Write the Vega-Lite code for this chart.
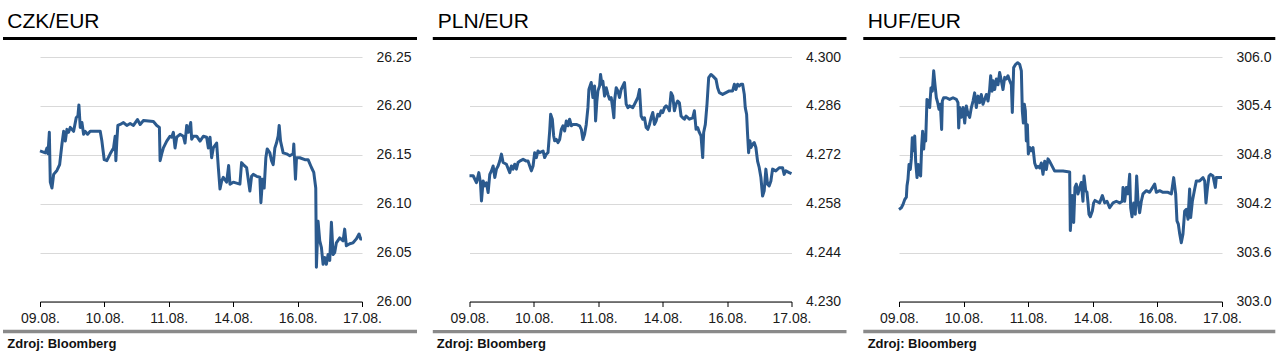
{
"$schema": "https://vega.github.io/schema/vega-lite/v6.json",
"padding": {"left": 1, "top": 10, "right": 5, "bottom": 5},
"config": {"font": "Liberation Sans", "view": {"stroke": null},
  "title": {"anchor": "start", "frame": "group", "baseline": "alphabetic", "fontSize": 21, "fontWeight": "normal", "color": "#000000", "offset": 5.2},
  "axis": {"labelFontSize": 14, "labelColor": "#1a1a1a", "title": null, "labelOverlap": false, "labelBound": false}
},
"datasets": {
"czk": [
{"t":0,"rate":26.154},{"t":0.083,"rate":26.152},{"t":0.108,"rate":26.157},{"t":0.124,"rate":26.151},{"t":0.145,"rate":26.173},{"t":0.160,"rate":26.122},{"t":0.186,"rate":26.116},{"t":0.212,"rate":26.130},{"t":0.263,"rate":26.134},{"t":0.305,"rate":26.140},{"t":0.341,"rate":26.161},{"t":0.367,"rate":26.174},{"t":0.393,"rate":26.164},{"t":0.418,"rate":26.176},{"t":0.444,"rate":26.173},{"t":0.470,"rate":26.178},{"t":0.522,"rate":26.174},{"t":0.563,"rate":26.188},{"t":0.589,"rate":26.190},{"t":0.604,"rate":26.201},{"t":0.625,"rate":26.178},{"t":0.651,"rate":26.183},{"t":0.677,"rate":26.171},{"t":0.702,"rate":26.174},{"t":0.739,"rate":26.171},{"t":0.780,"rate":26.174},{"t":0.935,"rate":26.174},{"t":0.961,"rate":26.164},{"t":0.997,"rate":26.145},{"t":1.038,"rate":26.144},{"t":1.090,"rate":26.151},{"t":1.142,"rate":26.157},{"t":1.167,"rate":26.169},{"t":1.178,"rate":26.144},{"t":1.193,"rate":26.164},{"t":1.209,"rate":26.180},{"t":1.245,"rate":26.181},{"t":1.296,"rate":26.183},{"t":1.348,"rate":26.180},{"t":1.400,"rate":26.182},{"t":1.451,"rate":26.180},{"t":1.513,"rate":26.186},{"t":1.555,"rate":26.181},{"t":1.606,"rate":26.185},{"t":1.761,"rate":26.184},{"t":1.813,"rate":26.180},{"t":1.854,"rate":26.178},{"t":1.865,"rate":26.144},{"t":1.890,"rate":26.151},{"t":1.916,"rate":26.157},{"t":1.968,"rate":26.164},{"t":2.020,"rate":26.169},{"t":2.045,"rate":26.168},{"t":2.071,"rate":26.173},{"t":2.097,"rate":26.157},{"t":2.123,"rate":26.168},{"t":2.175,"rate":26.171},{"t":2.226,"rate":26.169},{"t":2.252,"rate":26.162},{"t":2.278,"rate":26.180},{"t":2.304,"rate":26.173},{"t":2.340,"rate":26.183},{"t":2.355,"rate":26.166},{"t":2.381,"rate":26.169},{"t":2.433,"rate":26.169},{"t":2.485,"rate":26.164},{"t":2.536,"rate":26.169},{"t":2.588,"rate":26.168},{"t":2.614,"rate":26.157},{"t":2.640,"rate":26.168},{"t":2.665,"rate":26.147},{"t":2.691,"rate":26.157},{"t":2.743,"rate":26.162},{"t":2.769,"rate":26.137},{"t":2.795,"rate":26.115},{"t":2.820,"rate":26.123},{"t":2.846,"rate":26.127},{"t":2.898,"rate":26.122},{"t":2.929,"rate":26.139},{"t":2.950,"rate":26.120},{"t":3.001,"rate":26.122},{"t":3.104,"rate":26.120},{"t":3.130,"rate":26.142},{"t":3.156,"rate":26.140},{"t":3.208,"rate":26.137},{"t":3.259,"rate":26.113},{"t":3.285,"rate":26.128},{"t":3.311,"rate":26.130},{"t":3.363,"rate":26.128},{"t":3.414,"rate":26.127},{"t":3.430,"rate":26.101},{"t":3.456,"rate":26.125},{"t":3.481,"rate":26.116},{"t":3.507,"rate":26.147},{"t":3.528,"rate":26.156},{"t":3.569,"rate":26.152},{"t":3.595,"rate":26.144},{"t":3.621,"rate":26.140},{"t":3.647,"rate":26.157},{"t":3.672,"rate":26.162},{"t":3.698,"rate":26.169},{"t":3.714,"rate":26.180},{"t":3.735,"rate":26.164},{"t":3.776,"rate":26.152},{"t":3.828,"rate":26.151},{"t":3.879,"rate":26.149},{"t":3.931,"rate":26.151},{"t":3.941,"rate":26.161},{"t":3.967,"rate":26.125},{"t":3.983,"rate":26.147},{"t":4.034,"rate":26.147},{"t":4.112,"rate":26.145},{"t":4.163,"rate":26.145},{"t":4.215,"rate":26.137},{"t":4.251,"rate":26.132},{"t":4.282,"rate":26.116},{"t":4.292,"rate":26.035},{"t":4.318,"rate":26.082},{"t":4.344,"rate":26.062},{"t":4.370,"rate":26.055},{"t":4.396,"rate":26.038},{"t":4.421,"rate":26.045},{"t":4.447,"rate":26.038},{"t":4.473,"rate":26.048},{"t":4.499,"rate":26.042},{"t":4.525,"rate":26.081},{"t":4.551,"rate":26.048},{"t":4.576,"rate":26.050},{"t":4.602,"rate":26.060},{"t":4.654,"rate":26.065},{"t":4.706,"rate":26.062},{"t":4.731,"rate":26.074},{"t":4.757,"rate":26.057},{"t":4.809,"rate":26.059},{"t":4.861,"rate":26.060},{"t":4.912,"rate":26.064},{"t":4.954,"rate":26.069},{"t":4.979,"rate":26.064},{"t":5.0,"rate":26.064}
],
"pln": [
{"t":0,"rate":4.2660},{"t":0.057,"rate":4.2660},{"t":0.083,"rate":4.2650},{"t":0.108,"rate":4.2640},{"t":0.145,"rate":4.2669},{"t":0.170,"rate":4.2640},{"t":0.186,"rate":4.2588},{"t":0.212,"rate":4.2645},{"t":0.238,"rate":4.2631},{"t":0.263,"rate":4.2640},{"t":0.289,"rate":4.2612},{"t":0.315,"rate":4.2664},{"t":0.341,"rate":4.2674},{"t":0.367,"rate":4.2688},{"t":0.393,"rate":4.2655},{"t":0.418,"rate":4.2679},{"t":0.444,"rate":4.2688},{"t":0.470,"rate":4.2702},{"t":0.496,"rate":4.2722},{"t":0.522,"rate":4.2698},{"t":0.573,"rate":4.2693},{"t":0.625,"rate":4.2669},{"t":0.651,"rate":4.2688},{"t":0.677,"rate":4.2679},{"t":0.702,"rate":4.2693},{"t":0.728,"rate":4.2679},{"t":0.754,"rate":4.2698},{"t":0.780,"rate":4.2702},{"t":0.832,"rate":4.2707},{"t":0.883,"rate":4.2702},{"t":0.909,"rate":4.2702},{"t":0.935,"rate":4.2688},{"t":0.961,"rate":4.2674},{"t":0.987,"rate":4.2688},{"t":1.012,"rate":4.2726},{"t":1.038,"rate":4.2712},{"t":1.064,"rate":4.2731},{"t":1.090,"rate":4.2726},{"t":1.142,"rate":4.2731},{"t":1.167,"rate":4.2712},{"t":1.193,"rate":4.2722},{"t":1.219,"rate":4.2726},{"t":1.245,"rate":4.2788},{"t":1.260,"rate":4.2836},{"t":1.286,"rate":4.2822},{"t":1.307,"rate":4.2774},{"t":1.322,"rate":4.2760},{"t":1.348,"rate":4.2764},{"t":1.374,"rate":4.2755},{"t":1.400,"rate":4.2764},{"t":1.426,"rate":4.2793},{"t":1.451,"rate":4.2803},{"t":1.477,"rate":4.2788},{"t":1.503,"rate":4.2817},{"t":1.529,"rate":4.2803},{"t":1.555,"rate":4.2822},{"t":1.581,"rate":4.2803},{"t":1.606,"rate":4.2807},{"t":1.658,"rate":4.2807},{"t":1.710,"rate":4.2803},{"t":1.736,"rate":4.2793},{"t":1.761,"rate":4.2764},{"t":1.787,"rate":4.2779},{"t":1.813,"rate":4.2807},{"t":1.839,"rate":4.2855},{"t":1.854,"rate":4.2907},{"t":1.890,"rate":4.2927},{"t":1.916,"rate":4.2884},{"t":1.942,"rate":4.2917},{"t":1.958,"rate":4.2817},{"t":1.978,"rate":4.2874},{"t":1.994,"rate":4.2903},{"t":2.020,"rate":4.2917},{"t":2.035,"rate":4.2950},{"t":2.056,"rate":4.2922},{"t":2.071,"rate":4.2931},{"t":2.097,"rate":4.2888},{"t":2.123,"rate":4.2912},{"t":2.149,"rate":4.2893},{"t":2.175,"rate":4.2879},{"t":2.200,"rate":4.2884},{"t":2.226,"rate":4.2850},{"t":2.242,"rate":4.2826},{"t":2.252,"rate":4.2874},{"t":2.278,"rate":4.2912},{"t":2.304,"rate":4.2903},{"t":2.330,"rate":4.2884},{"t":2.355,"rate":4.2907},{"t":2.381,"rate":4.2917},{"t":2.407,"rate":4.2927},{"t":2.433,"rate":4.2865},{"t":2.459,"rate":4.2855},{"t":2.485,"rate":4.2860},{"t":2.536,"rate":4.2855},{"t":2.588,"rate":4.2874},{"t":2.614,"rate":4.2884},{"t":2.640,"rate":4.2907},{"t":2.665,"rate":4.2831},{"t":2.691,"rate":4.2822},{"t":2.717,"rate":4.2826},{"t":2.743,"rate":4.2798},{"t":2.769,"rate":4.2793},{"t":2.795,"rate":4.2807},{"t":2.820,"rate":4.2826},{"t":2.846,"rate":4.2841},{"t":2.872,"rate":4.2807},{"t":2.898,"rate":4.2817},{"t":2.924,"rate":4.2836},{"t":2.950,"rate":4.2831},{"t":2.975,"rate":4.2846},{"t":3.001,"rate":4.2841},{"t":3.027,"rate":4.2855},{"t":3.053,"rate":4.2860},{"t":3.079,"rate":4.2855},{"t":3.104,"rate":4.2846},{"t":3.130,"rate":4.2898},{"t":3.156,"rate":4.2888},{"t":3.182,"rate":4.2846},{"t":3.208,"rate":4.2865},{"t":3.233,"rate":4.2874},{"t":3.259,"rate":4.2869},{"t":3.285,"rate":4.2831},{"t":3.311,"rate":4.2826},{"t":3.337,"rate":4.2822},{"t":3.363,"rate":4.2831},{"t":3.414,"rate":4.2822},{"t":3.466,"rate":4.2826},{"t":3.492,"rate":4.2846},{"t":3.518,"rate":4.2793},{"t":3.543,"rate":4.2798},{"t":3.569,"rate":4.2784},{"t":3.595,"rate":4.2774},{"t":3.621,"rate":4.2712},{"t":3.636,"rate":4.2784},{"t":3.662,"rate":4.2807},{"t":3.688,"rate":4.2865},{"t":3.714,"rate":4.2941},{"t":3.750,"rate":4.2950},{"t":3.776,"rate":4.2946},{"t":3.802,"rate":4.2941},{"t":3.828,"rate":4.2936},{"t":3.853,"rate":4.2912},{"t":3.879,"rate":4.2898},{"t":3.931,"rate":4.2893},{"t":3.983,"rate":4.2898},{"t":4.034,"rate":4.2903},{"t":4.086,"rate":4.2903},{"t":4.112,"rate":4.2922},{"t":4.137,"rate":4.2907},{"t":4.163,"rate":4.2922},{"t":4.189,"rate":4.2917},{"t":4.215,"rate":4.2922},{"t":4.241,"rate":4.2922},{"t":4.267,"rate":4.2893},{"t":4.282,"rate":4.2855},{"t":4.303,"rate":4.2836},{"t":4.318,"rate":4.2779},{"t":4.334,"rate":4.2726},{"t":4.354,"rate":4.2760},{"t":4.370,"rate":4.2741},{"t":4.396,"rate":4.2750},{"t":4.421,"rate":4.2755},{"t":4.447,"rate":4.2741},{"t":4.473,"rate":4.2702},{"t":4.499,"rate":4.2683},{"t":4.525,"rate":4.2655},{"t":4.551,"rate":4.2602},{"t":4.576,"rate":4.2617},{"t":4.602,"rate":4.2679},{"t":4.628,"rate":4.2636},{"t":4.654,"rate":4.2631},{"t":4.680,"rate":4.2645},{"t":4.706,"rate":4.2679},{"t":4.757,"rate":4.2674},{"t":4.809,"rate":4.2683},{"t":4.861,"rate":4.2683},{"t":4.886,"rate":4.2664},{"t":4.912,"rate":4.2674},{"t":4.964,"rate":4.2669},{"t":5.0,"rate":4.2666}
],
"huf": [
{"t":0,"rate":304.13},{"t":0.036,"rate":304.15},{"t":0.062,"rate":304.19},{"t":0.088,"rate":304.25},{"t":0.114,"rate":304.28},{"t":0.124,"rate":304.42},{"t":0.139,"rate":304.50},{"t":0.155,"rate":304.68},{"t":0.175,"rate":304.62},{"t":0.191,"rate":304.75},{"t":0.206,"rate":305.01},{"t":0.227,"rate":304.85},{"t":0.243,"rate":305.03},{"t":0.258,"rate":304.72},{"t":0.279,"rate":304.52},{"t":0.299,"rate":304.68},{"t":0.320,"rate":304.56},{"t":0.335,"rate":304.54},{"t":0.351,"rate":304.91},{"t":0.366,"rate":305.09},{"t":0.382,"rate":304.87},{"t":0.397,"rate":305.05},{"t":0.413,"rate":304.97},{"t":0.433,"rate":305.48},{"t":0.454,"rate":305.46},{"t":0.475,"rate":305.38},{"t":0.495,"rate":305.62},{"t":0.516,"rate":305.58},{"t":0.537,"rate":305.83},{"t":0.557,"rate":305.66},{"t":0.578,"rate":305.50},{"t":0.599,"rate":305.44},{"t":0.619,"rate":305.36},{"t":0.640,"rate":305.42},{"t":0.660,"rate":305.11},{"t":0.671,"rate":305.46},{"t":0.691,"rate":305.50},{"t":0.733,"rate":305.50},{"t":0.784,"rate":305.48},{"t":0.836,"rate":305.50},{"t":0.888,"rate":305.48},{"t":0.913,"rate":305.44},{"t":0.924,"rate":305.13},{"t":0.939,"rate":305.38},{"t":0.965,"rate":305.26},{"t":0.991,"rate":305.38},{"t":1.017,"rate":305.19},{"t":1.042,"rate":305.40},{"t":1.068,"rate":305.30},{"t":1.094,"rate":305.26},{"t":1.120,"rate":305.38},{"t":1.146,"rate":305.46},{"t":1.171,"rate":305.56},{"t":1.197,"rate":305.38},{"t":1.223,"rate":305.52},{"t":1.249,"rate":305.44},{"t":1.274,"rate":305.54},{"t":1.300,"rate":305.42},{"t":1.326,"rate":305.48},{"t":1.352,"rate":305.54},{"t":1.378,"rate":305.46},{"t":1.403,"rate":305.60},{"t":1.419,"rate":305.77},{"t":1.440,"rate":305.58},{"t":1.455,"rate":305.71},{"t":1.481,"rate":305.60},{"t":1.507,"rate":305.73},{"t":1.533,"rate":305.66},{"t":1.558,"rate":305.81},{"t":1.584,"rate":305.71},{"t":1.610,"rate":305.60},{"t":1.636,"rate":305.75},{"t":1.661,"rate":305.73},{"t":1.687,"rate":305.77},{"t":1.713,"rate":305.71},{"t":1.739,"rate":305.66},{"t":1.754,"rate":305.32},{"t":1.775,"rate":305.87},{"t":1.806,"rate":305.91},{"t":1.837,"rate":305.93},{"t":1.868,"rate":305.91},{"t":1.894,"rate":305.83},{"t":1.909,"rate":305.34},{"t":1.925,"rate":305.19},{"t":1.940,"rate":305.42},{"t":1.956,"rate":305.34},{"t":1.971,"rate":304.97},{"t":1.987,"rate":305.17},{"t":2.002,"rate":304.81},{"t":2.023,"rate":304.89},{"t":2.048,"rate":304.85},{"t":2.074,"rate":304.89},{"t":2.100,"rate":304.70},{"t":2.126,"rate":304.64},{"t":2.152,"rate":304.66},{"t":2.178,"rate":304.64},{"t":2.203,"rate":304.70},{"t":2.229,"rate":304.56},{"t":2.255,"rate":304.72},{"t":2.281,"rate":304.62},{"t":2.306,"rate":304.75},{"t":2.332,"rate":304.72},{"t":2.358,"rate":304.68},{"t":2.384,"rate":304.64},{"t":2.410,"rate":304.60},{"t":2.487,"rate":304.60},{"t":2.539,"rate":304.60},{"t":2.642,"rate":304.59},{"t":2.652,"rate":303.87},{"t":2.668,"rate":304.07},{"t":2.683,"rate":304.30},{"t":2.704,"rate":303.97},{"t":2.724,"rate":304.40},{"t":2.745,"rate":304.44},{"t":2.771,"rate":304.32},{"t":2.797,"rate":304.40},{"t":2.822,"rate":304.46},{"t":2.848,"rate":304.23},{"t":2.864,"rate":304.54},{"t":2.890,"rate":304.36},{"t":2.910,"rate":304.34},{"t":2.926,"rate":304.21},{"t":2.941,"rate":304.07},{"t":2.962,"rate":304.04},{"t":2.993,"rate":304.11},{"t":3.013,"rate":304.21},{"t":3.034,"rate":304.24},{"t":3.055,"rate":304.23},{"t":3.106,"rate":304.21},{"t":3.148,"rate":304.30},{"t":3.184,"rate":304.21},{"t":3.220,"rate":304.23},{"t":3.261,"rate":304.15},{"t":3.313,"rate":304.21},{"t":3.364,"rate":304.23},{"t":3.416,"rate":304.21},{"t":3.457,"rate":304.23},{"t":3.468,"rate":304.40},{"t":3.493,"rate":304.23},{"t":3.519,"rate":304.40},{"t":3.545,"rate":304.32},{"t":3.571,"rate":304.56},{"t":3.586,"rate":304.15},{"t":3.607,"rate":304.04},{"t":3.633,"rate":304.21},{"t":3.658,"rate":304.07},{"t":3.679,"rate":304.54},{"t":3.700,"rate":304.23},{"t":3.725,"rate":304.09},{"t":3.751,"rate":304.23},{"t":3.777,"rate":304.32},{"t":3.829,"rate":304.36},{"t":3.880,"rate":304.34},{"t":3.958,"rate":304.44},{"t":3.983,"rate":304.34},{"t":4.035,"rate":304.36},{"t":4.087,"rate":304.34},{"t":4.164,"rate":304.34},{"t":4.216,"rate":304.32},{"t":4.252,"rate":304.52},{"t":4.283,"rate":304.32},{"t":4.303,"rate":303.99},{"t":4.324,"rate":303.95},{"t":4.345,"rate":303.83},{"t":4.370,"rate":303.72},{"t":4.396,"rate":303.83},{"t":4.422,"rate":304.11},{"t":4.448,"rate":304.13},{"t":4.474,"rate":304.01},{"t":4.499,"rate":304.38},{"t":4.515,"rate":304.03},{"t":4.541,"rate":304.23},{"t":4.577,"rate":304.38},{"t":4.603,"rate":304.48},{"t":4.654,"rate":304.48},{"t":4.706,"rate":304.52},{"t":4.732,"rate":304.48},{"t":4.752,"rate":304.21},{"t":4.773,"rate":304.38},{"t":4.799,"rate":304.54},{"t":4.825,"rate":304.56},{"t":4.861,"rate":304.54},{"t":4.897,"rate":304.40},{"t":4.912,"rate":304.52},{"t":4.948,"rate":304.52},{"t":5.0,"rate":304.52}
]
},
"bounds": "flush",
"spacing": 107.5,
"hconcat": [
{
 "width": 322, "height": 244.5,
 "title": {"text": "CZK/EUR", "dx": -32.7},
 "layer": [
  {"data": {"name": "czk"},
   "mark": {"type": "line", "color": "#2b5a8e", "strokeWidth": 3, "strokeJoin": "round"},
   "encoding": {
    "x": {"field": "t", "type": "quantitative", "scale": {"domain": [0, 5], "nice": false},
      "axis": {"values": [0,1,2,3,4,5], "labelExpr": "['09.08.','10.08.','11.08.','14.08.','16.08.','17.08.'][datum.value]", "labelFlush": false, "grid": false, "tickSize": 5, "tickColor": "#000000", "domainColor": "#000000", "labelPadding": 5}},
    "y": {"field": "rate", "type": "quantitative", "scale": {"domain": [26.0, 26.25], "zero": false, "nice": false},
      "axis": {"orient": "right", "values": [26.0,26.05,26.1,26.15,26.2,26.25], "format": ".2f", "ticks": false, "domain": false, "grid": true, "gridColor": "#d9d9d9", "labelPadding": 14, "labelBaseline": "middle", "labelFlush": false}}
   }},
  {"data": {"values": [{}]},
   "mark": {"type": "rule", "color": "#000000", "strokeWidth": 3, "strokeCap": "butt", "clip": false},
   "encoding": {"x": {"datum": -0.5745, "type": "quantitative"}, "x2": {"datum": 5.854},
     "y": {"datum": 26.2689, "type": "quantitative"}}},
  {"data": {"values": [{}]},
   "mark": {"type": "rule", "color": "#8a8a8a", "strokeWidth": 3.3, "strokeCap": "butt", "clip": false},
   "encoding": {"x": {"datum": -0.5745, "type": "quantitative"}, "x2": {"datum": 5.854},
     "y": {"datum": 25.9693, "type": "quantitative"}}},
  {"data": {"values": [{}]},
   "mark": {"type": "text", "text": "Zdroj: Bloomberg", "align": "left", "baseline": "alphabetic", "fontSize": 13, "fontWeight": "bold", "color": "#111111", "clip": false},
   "encoding": {"x": {"datum": -0.508, "type": "quantitative"},
     "y": {"datum": 25.9527, "type": "quantitative"}}}
 ]
},
{
 "width": 322, "height": 244.5,
 "title": {"text": "PLN/EUR", "dx": -31.7},
 "layer": [
  {"data": {"name": "pln"},
   "mark": {"type": "line", "color": "#2b5a8e", "strokeWidth": 3, "strokeJoin": "round"},
   "encoding": {
    "x": {"field": "t", "type": "quantitative", "scale": {"domain": [0, 5], "nice": false},
      "axis": {"values": [0,1,2,3,4,5], "labelExpr": "['09.08.','10.08.','11.08.','14.08.','16.08.','17.08.'][datum.value]", "labelFlush": false, "grid": false, "tickSize": 5, "tickColor": "#000000", "domainColor": "#000000", "labelPadding": 5}},
    "y": {"field": "rate", "type": "quantitative", "scale": {"domain": [4.23, 4.30], "zero": false, "nice": false},
      "axis": {"orient": "right", "values": [4.23,4.244,4.258,4.272,4.286,4.3], "format": ".3f", "ticks": false, "domain": false, "grid": true, "gridColor": "#d9d9d9", "labelPadding": 14, "labelBaseline": "middle", "labelFlush": false}}
   }},
  {"data": {"values": [{}]},
   "mark": {"type": "rule", "color": "#000000", "strokeWidth": 3, "strokeCap": "butt", "clip": false},
   "encoding": {"x": {"datum": -0.570, "type": "quantitative"}, "x2": {"datum": 5.854},
     "y": {"datum": 4.3053, "type": "quantitative"}}},
  {"data": {"values": [{}]},
   "mark": {"type": "rule", "color": "#8a8a8a", "strokeWidth": 3.3, "strokeCap": "butt", "clip": false},
   "encoding": {"x": {"datum": -0.570, "type": "quantitative"}, "x2": {"datum": 5.854},
     "y": {"datum": 4.2214, "type": "quantitative"}}},
  {"data": {"values": [{}]},
   "mark": {"type": "text", "text": "Zdroj: Bloomberg", "align": "left", "baseline": "alphabetic", "fontSize": 13, "fontWeight": "bold", "color": "#111111", "clip": false},
   "encoding": {"x": {"datum": -0.508, "type": "quantitative"},
     "y": {"datum": 4.2167, "type": "quantitative"}}}
 ]
},
{
 "width": 323, "height": 244.5,
 "title": {"text": "HUF/EUR", "dx": -31.3},
 "layer": [
  {"data": {"name": "huf"},
   "mark": {"type": "line", "color": "#2b5a8e", "strokeWidth": 3, "strokeJoin": "round"},
   "encoding": {
    "x": {"field": "t", "type": "quantitative", "scale": {"domain": [0, 5], "nice": false},
      "axis": {"values": [0,1,2,3,4,5], "labelExpr": "['09.08.','10.08.','11.08.','14.08.','16.08.','17.08.'][datum.value]", "labelFlush": false, "grid": false, "tickSize": 5, "tickColor": "#000000", "domainColor": "#000000", "labelPadding": 5}},
    "y": {"field": "rate", "type": "quantitative", "scale": {"domain": [303.0, 306.0], "zero": false, "nice": false},
      "axis": {"orient": "right", "values": [303.0,303.6,304.2,304.8,305.4,306.0], "format": ".1f", "ticks": false, "domain": false, "grid": true, "gridColor": "#d9d9d9", "labelPadding": 14, "labelBaseline": "middle", "labelFlush": false}}
   }},
  {"data": {"values": [{}]},
   "mark": {"type": "rule", "color": "#000000", "strokeWidth": 3, "strokeCap": "butt", "clip": false},
   "encoding": {"x": {"datum": -0.553, "type": "quantitative"}, "x2": {"datum": 5.825},
     "y": {"datum": 306.227, "type": "quantitative"}}},
  {"data": {"values": [{}]},
   "mark": {"type": "rule", "color": "#8a8a8a", "strokeWidth": 3.3, "strokeCap": "butt", "clip": false},
   "encoding": {"x": {"datum": -0.553, "type": "quantitative"}, "x2": {"datum": 5.825},
     "y": {"datum": 302.632, "type": "quantitative"}}},
  {"data": {"values": [{}]},
   "mark": {"type": "text", "text": "Zdroj: Bloomberg", "align": "left", "baseline": "alphabetic", "fontSize": 13, "fontWeight": "bold", "color": "#111111", "clip": false},
   "encoding": {"x": {"datum": -0.485, "type": "quantitative"},
     "y": {"datum": 302.432, "type": "quantitative"}}}
 ]
}
]
}
